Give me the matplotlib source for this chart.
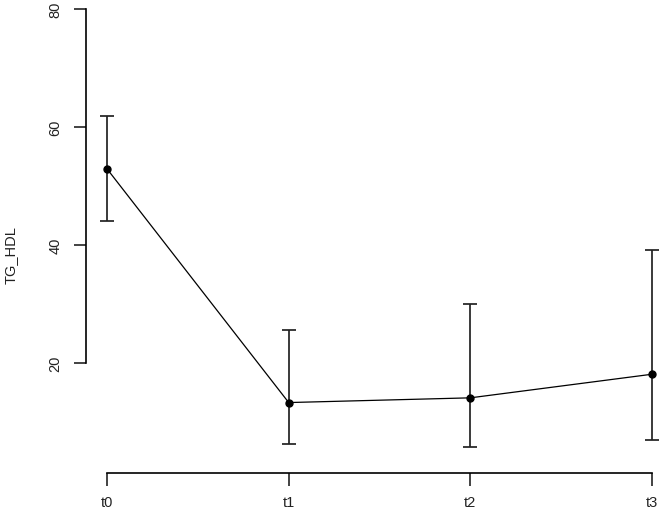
import matplotlib
matplotlib.use("Agg")
import matplotlib.pyplot as plt
import numpy as np

categories = ["t0", "t1", "t2", "t3"]
means = [52.9, 13.3, 14.1, 18.1]
upper = [61.9, 25.6, 30.0, 39.2]
lower = [44.1, 6.3, 5.7, 6.9]
yticks = [20, 40, 60, 80]

plt.rcParams['font.family'] = ['Liberation Sans', 'DejaVu Sans']

fig = plt.figure(figsize=(6.6, 5.1), dpi=100)
W, H = 660, 510
ax = fig.add_axes([86 / W, 36 / H, 1 - 86 / W, 1 - 36 / H])

x = np.arange(len(categories))
m = np.array(means)
err = np.vstack([m - np.array(lower), np.array(upper) - m])

ax.plot(x, m, color='black', lw=0.9, zorder=2)
ax.errorbar(x, m, yerr=err, fmt='none', ecolor='#222222', elinewidth=1.25,
            capsize=4.7, capthick=1.25, zorder=3)
ax.plot(x, m, 'o', color='black', ms=5, zorder=4)

ax.set_xlim(-0.116, 3.044)
ax.set_ylim(1.36, 81.7)

for s in ['top', 'right']:
    ax.spines[s].set_visible(False)
ax.spines['left'].set_bounds(20, 80)
ax.spines['bottom'].set_bounds(0, 3)
ax.spines['left'].set_linewidth(1.2)
ax.spines['bottom'].set_linewidth(1.2)

ax.set_xticks(x)
ax.set_xticklabels(categories)
ax.set_yticks(yticks)
ax.set_yticklabels([str(v) for v in yticks], rotation=90, va='center')
ax.tick_params(axis='both', length=9, width=1.2, labelsize=10.5, colors='#222222')
ax.tick_params(axis='x', pad=6.5)
ax.tick_params(axis='y', pad=8)

fig.text(11 / W, 1 - 255 / H, "TG_HDL", rotation=90, ha='center', va='center',
         fontsize=10.5, color='#222222')

fig.savefig("out.png", dpi=100)
